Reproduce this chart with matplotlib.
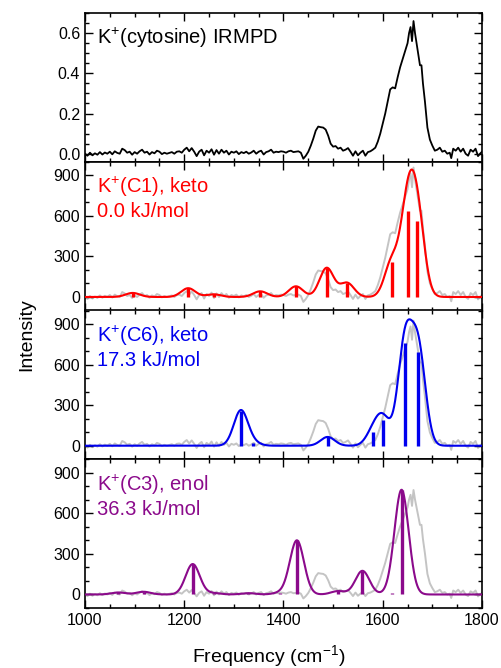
import numpy as np
import matplotlib
matplotlib.use("Agg")
import matplotlib.pyplot as plt
from matplotlib.ticker import MultipleLocator

plt.rcParams['font.family'] = ['Liberation Sans', 'DejaVu Sans']
plt.rcParams['mathtext.fontset'] = 'custom'
plt.rcParams['mathtext.rm'] = 'Liberation Sans'
plt.rcParams['mathtext.it'] = 'Liberation Sans'
plt.rcParams['mathtext.bf'] = 'Liberation Sans'

# ---------------- data ----------------
exp_freq = [1000, 1005, 1010, 1015, 1020, 1025, 1030, 1035, 1040, 1045,
            1050, 1055, 1060, 1065, 1070, 1075, 1080, 1085, 1090, 1095,
            1100, 1105, 1110, 1115, 1120, 1125, 1130, 1135, 1140, 1145,
            1150, 1155, 1160, 1165, 1170, 1175, 1180, 1185, 1190, 1195,
            1200, 1205, 1210, 1215, 1220, 1225, 1230, 1235, 1240, 1245,
            1250, 1255, 1260, 1265, 1270, 1275, 1280, 1285, 1290, 1295,
            1300, 1305, 1310, 1315, 1320, 1325, 1330, 1335, 1340, 1345,
            1350, 1355, 1360, 1365, 1370, 1375, 1380, 1385, 1390, 1395,
            1400, 1405, 1410, 1415, 1420, 1425, 1430, 1435, 1440, 1445,
            1450, 1455, 1460, 1465, 1470, 1475, 1480, 1485, 1490, 1495,
            1500, 1505, 1510, 1515, 1520, 1525, 1530, 1535, 1540, 1545,
            1550, 1555, 1560, 1565, 1570, 1575, 1580, 1585, 1590, 1595,
            1600, 1605, 1610, 1615, 1620, 1625, 1630, 1635, 1640, 1645,
            1650, 1653, 1656, 1659, 1662, 1665, 1670, 1675, 1678, 1681,
            1685, 1690, 1695, 1700, 1705, 1710, 1715, 1720, 1725, 1730,
            1735, 1738, 1742, 1747, 1752, 1757, 1762, 1767, 1772, 1777,
            1782, 1787, 1792, 1796, 1800]
exp_yield = [0.000, -0.010, 0.005, -0.008, 0.002, -0.005, 0.008, -0.004, 0.006, 0.000,
             0.010, -0.003, 0.012, 0.004, 0.000, 0.025, 0.018, 0.005, 0.010, -0.005,
             0.008, 0.000, 0.012, 0.020, 0.005, 0.010, -0.004, 0.008, 0.002, 0.015,
             0.010, -0.002, 0.005, 0.000, 0.004, 0.008, 0.000, 0.010, 0.012, 0.005,
             0.020, 0.030, 0.012, 0.028, 0.010, -0.012, 0.010, 0.020, -0.008, 0.015,
             0.005, 0.022, -0.005, 0.018, 0.000, 0.020, 0.005, 0.015, -0.004, 0.010,
             0.005, 0.012, -0.002, 0.008, 0.003, 0.010, 0.000, 0.006, 0.015, 0.000,
             0.010, 0.015, -0.004, 0.008, 0.012, 0.020, 0.005, 0.010, 0.008, 0.012,
             0.010, 0.005, 0.012, 0.015, 0.008, 0.010, 0.012, 0.005, -0.025, -0.010,
             0.010, 0.040, 0.075, 0.115, 0.135, 0.132, 0.130, 0.120, 0.090, 0.050,
             0.035, 0.038, 0.025, 0.030, 0.015, 0.020, 0.028, 0.010, -0.010, 0.012,
             -0.008, 0.005, 0.015, -0.010, 0.008, 0.012, 0.020, 0.030, 0.060, 0.100,
             0.150, 0.200, 0.260, 0.320, 0.330, 0.325, 0.380, 0.430, 0.470, 0.510,
             0.550, 0.600, 0.630, 0.560, 0.660, 0.600, 0.520, 0.440, 0.440, 0.350,
             0.260, 0.130, 0.070, 0.040, 0.015, 0.020, 0.030, 0.010, 0.015, 0.000,
             0.005, -0.022, 0.025, 0.015, 0.030, 0.010, 0.025, 0.000, -0.010, 0.020,
             0.010, 0.025, -0.012, 0.000, 0.010]

c1_freq = [1096, 1208, 1259, 1353, 1425, 1487, 1528, 1618, 1650, 1670]
c1_int = [30, 65, 20, 42, 79, 215, 104, 256, 636, 563]

c6_freq = [1314, 1339, 1489, 1581, 1601, 1645, 1672]
c6_int = [260, 20, 65, 102, 193, 763, 690]

c3_freq = [1067, 1118, 1217, 1259, 1329, 1393, 1427, 1510, 1559, 1618, 1638]
c3_int = [15, 20, 225, 10, 10, 12, 400, 25, 175, 12, 770]

exp_scale = [1450, 1400, 1170]

panel_lines = [["K$^{+}$(C1), keto", "0.0 kJ/mol"],
               ["K$^{+}$(C6), keto", "17.3 kJ/mol"],
               ["K$^{+}$(C3), enol", "36.3 kJ/mol"]]
panel_colors = ['#ff0000', '#0000ee', '#8b0a8b']
exp_label = "K$^{+}$(cytosine) IRMPD"

FWHM = 33.5

# --------------- plotting ---------------
def broaden(freqs, ints, x, fwhm):
    s = fwhm / 2.3548
    y = np.zeros_like(x)
    for f, h in zip(freqs, ints):
        y += h * np.exp(-0.5 * ((x - f) / s) ** 2)
    return y

W, H = 502, 668
fig = plt.figure(figsize=(W / 100, H / 100), dpi=100)
left, right = 85, 482
top, bottom = 13, 608
ph = (bottom - top) / 4.0

axes = []
for i in range(4):
    y_top = top + i * ph
    ax = fig.add_axes([left / W, (H - (y_top + ph)) / H, (right - left) / W, ph / H])
    axes.append(ax)

xgrid = np.linspace(1000, 1800, 1601)
ef = np.array(exp_freq, dtype=float)
ey = np.array(exp_yield, dtype=float)

TXT = 14.5

for ax in axes:
    ax.set_xlim(1000, 1800)
    ax.xaxis.set_major_locator(MultipleLocator(200))
    ax.xaxis.set_minor_locator(MultipleLocator(50))
    ax.tick_params(which='both', direction='in', top=True, right=True,
                   labelsize=11.5, width=1.0)
    ax.tick_params(which='major', length=5.5)
    ax.tick_params(which='minor', length=3)
    for sp in ax.spines.values():
        sp.set_linewidth(1.2)

# top panel
ax = axes[0]
ax.plot(ef, ey, color='black', lw=1.3)
ax.set_ylim(-0.04, 0.70)
ax.yaxis.set_major_locator(MultipleLocator(0.2))
ax.yaxis.set_minor_locator(MultipleLocator(0.05))
ax.set_yticks([0.0, 0.2, 0.4, 0.6])
ax.set_yticklabels(['0.0', '0.2', '0.4', '0.6'])
ax.tick_params(labelbottom=False)
ax.text(0.03, 1 - 31.5 / ph, exp_label, transform=ax.transAxes,
        fontsize=TXT, va='baseline', ha='left', color='black')

sticks = [(c1_freq, c1_int), (c6_freq, c6_int), (c3_freq, c3_int)]
for k in range(3):
    ax = axes[k + 1]
    col = panel_colors[k]
    fr, it = sticks[k]
    ax.plot(ef, ey * exp_scale[k], color='#c4c4c4', lw=1.4, zorder=1)
    ax.plot(xgrid, broaden(fr, it, xgrid, FWHM), color=col, lw=1.5, zorder=3)
    ax.vlines(fr, 0, it, color=col, lw=2.4, zorder=2)
    ax.set_ylim(-100, 1000)
    ax.yaxis.set_major_locator(MultipleLocator(300))
    ax.yaxis.set_minor_locator(MultipleLocator(100))
    ax.set_yticks([0, 300, 600, 900])
    if k < 2:
        ax.tick_params(labelbottom=False)
    ax.text(0.03, 1 - 31.5 / ph, panel_lines[k][0], transform=ax.transAxes,
            fontsize=TXT, va='baseline', ha='left', color=col)
    ax.text(0.03, 1 - 55.5 / ph, panel_lines[k][1], transform=ax.transAxes,
            fontsize=TXT, va='baseline', ha='left', color=col)

axes[3].set_xticks([1000, 1200, 1400, 1600, 1800])
axes[3].set_xlabel("Frequency (cm$^{-1}$)", fontsize=14)
axes[3].xaxis.set_label_coords((269 - left) / (right - left), -(656 - bottom) / ph,
                               transform=axes[3].transAxes)
axes[3].xaxis.label.set_va('center')
fig.text(27 / W, (H - 335) / H, "Intensity", rotation=90, fontsize=14,
         va='center', ha='center')

fig.savefig("out.png", dpi=100)
